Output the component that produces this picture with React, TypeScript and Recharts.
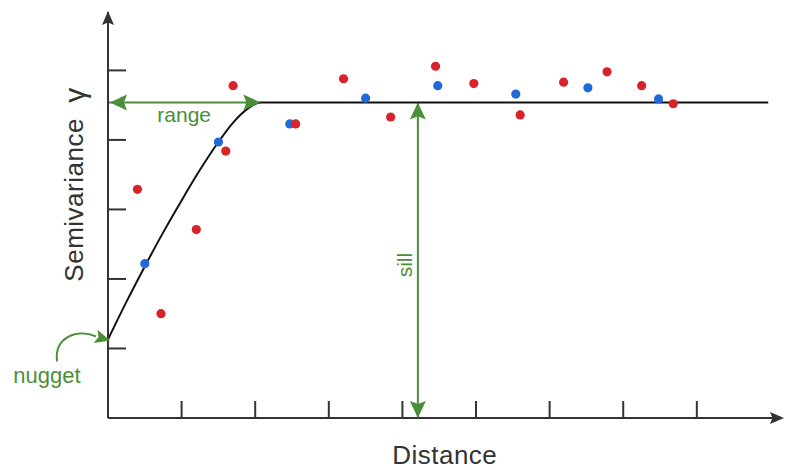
import React from 'react';
import {
  ComposedChart,
  XAxis,
  YAxis,
  Line,
  Scatter,
  ReferenceLine,
  ReferenceDot,
} from 'recharts';

// ---- data ----
const X_TICKS = [1, 2, 3, 4, 5, 6, 7, 8];
const Y_TICKS = [1, 2, 3, 4, 5];
const X_MAX = 9.13;
const Y_MAX = 5.84;
const NUGGET = 1.13;
const SILL = 4.54;
const RANGE = 2.07;
const SILL_X = 4.21;

const modelCurve = [
  { x: 0, y: 1.13 },
  { x: 0.25, y: 1.67 },
  { x: 0.5, y: 2.18 },
  { x: 0.75, y: 2.67 },
  { x: 1.0, y: 3.13 },
  { x: 1.25, y: 3.57 },
  { x: 1.5, y: 3.97 },
  { x: 1.7, y: 4.25 },
  { x: 1.9, y: 4.45 },
  { x: 2.07, y: 4.54 },
  { x: 8.97, y: 4.54 },
];

const bluePoints = [
  { x: 0.5, y: 2.22 },
  { x: 1.5, y: 3.97 },
  { x: 2.47, y: 4.23 },
  { x: 3.5, y: 4.6 },
  { x: 4.48, y: 4.78 },
  { x: 5.54, y: 4.66 },
  { x: 6.52, y: 4.75 },
  { x: 7.48, y: 4.59 },
];

const redPoints = [
  { x: 0.4, y: 3.29 },
  { x: 0.72, y: 1.5 },
  { x: 1.2, y: 2.71 },
  { x: 1.6, y: 3.84 },
  { x: 1.7, y: 4.78 },
  { x: 2.55, y: 4.23 },
  { x: 3.2, y: 4.88 },
  { x: 3.84, y: 4.33 },
  { x: 4.45, y: 5.06 },
  { x: 4.97, y: 4.81 },
  { x: 5.6, y: 4.36 },
  { x: 6.19, y: 4.83 },
  { x: 6.78, y: 4.98 },
  { x: 7.25, y: 4.78 },
  { x: 7.68, y: 4.52 },
];

// ---- styles ----
const AXIS = '#333333';
const GREEN = '#4a8f38';
const RED = '#d8232a';
const BLUE = '#1f6ad6';
const FONT = '"Liberation Sans", Arial, Helvetica, sans-serif';

const arrow = (color: string, angle: number, len: number, half: number, dx = 0, dy = 0) =>
  (props: any) => (
    <polygon
      points={`0,0 ${-len},${-half} ${-len * 0.82},0 ${-len},${half}`}
      fill={color}
      transform={`translate(${props.cx + dx},${props.cy + dy}) rotate(${angle})`}
    />
  );

const tickMark = (ddx: number, ddy: number) => (props: any) => (
  <line
    x1={props.cx}
    y1={props.cy}
    x2={props.cx + ddx}
    y2={props.cy + ddy}
    stroke={AXIS}
    strokeWidth={2}
  />
);

const label = (
  text: any,
  color: string,
  size: number,
  dx: number,
  dy: number,
  rotate = 0,
  baseline: any = 'auto',
  spacing = 0
) => (props: any) => (
  <text
    x={0}
    y={0}
    transform={`translate(${props.cx + dx},${props.cy + dy}) rotate(${rotate})`}
    textAnchor="middle"
    dominantBaseline={baseline}
    fill={color}
    fontSize={size}
    fontFamily={FONT}
    letterSpacing={spacing}
  >
    {text}
  </text>
);

const nuggetArrow = (props: any) => (
  <g transform={`translate(${props.cx + 2},${props.cy + 1})`}>
    <path d="M -53 21 C -56 -4, -32 -12, -14 -4" fill="none" stroke={GREEN} strokeWidth={2} />
    <polygon points="0,0 -12.5,-10.8 -11.5,-3.5 -16.3,2.6" fill={GREEN} />
  </g>
);

export default function App() {
  return (
    <div style={{ position: 'absolute', left: 0, top: 0, background: '#fff' }}>
      <ComposedChart
        width={785}
        height={470}
        margin={{ top: 12, right: 5, bottom: 52, left: 108 }}
      >
        <XAxis
          type="number"
          dataKey="x"
          domain={[0, X_MAX]}
          ticks={X_TICKS}
          allowDataOverflow
          mirror
          tick={false}
          tickLine={false}
          axisLine={{ stroke: AXIS, strokeWidth: 2 }}
        />
        <YAxis
          type="number"
          dataKey="y"
          domain={[0, Y_MAX]}
          ticks={Y_TICKS}
          allowDataOverflow
          mirror
          tick={false}
          tickLine={false}
          axisLine={{ stroke: AXIS, strokeWidth: 2 }}
        />

        {/* tick marks (inside) */}
        {X_TICKS.map((t) => (
          <ReferenceDot key={`xt${t}`} x={t} y={0} r={0} ifOverflow="visible" shape={tickMark(0, -17)} />
        ))}
        {Y_TICKS.map((t) => (
          <ReferenceDot key={`yt${t}`} x={0} y={t} r={0} ifOverflow="visible" shape={tickMark(18, 0)} />
        ))}

        {/* axis arrowheads */}
        <ReferenceDot x={0} y={Y_MAX} r={0} ifOverflow="visible" shape={arrow(AXIS, -90, 14, 6, 0, -1)} />
        <ReferenceDot x={X_MAX} y={0} r={0} ifOverflow="visible" shape={arrow(AXIS, 0, 14, 6, 4, 0)} />

        {/* sill arrow */}
        <ReferenceLine
          segment={[{ x: SILL_X, y: 0 }, { x: SILL_X, y: SILL }]}
          stroke={GREEN}
          strokeWidth={2}
          ifOverflow="visible"
        />
        <ReferenceDot x={SILL_X} y={SILL} r={0} ifOverflow="visible" shape={arrow(GREEN, -90, 17, 8)} />
        <ReferenceDot x={SILL_X} y={0} r={0} ifOverflow="visible" shape={arrow(GREEN, 90, 17, 8)} />

        {/* range arrow */}
        <ReferenceLine
          segment={[{ x: 0, y: SILL }, { x: RANGE, y: SILL }]}
          stroke={GREEN}
          strokeWidth={2}
          ifOverflow="visible"
        />
        <ReferenceDot x={0} y={SILL} r={0} ifOverflow="visible" shape={arrow(GREEN, 180, 17, 8, 2, 0)} />
        <ReferenceDot x={RANGE} y={SILL} r={0} ifOverflow="visible" shape={arrow(GREEN, 0, 17, 8)} />

        {/* nugget */}
        <ReferenceDot x={0} y={NUGGET} r={0} ifOverflow="visible" shape={nuggetArrow} />

        <Line
          data={modelCurve}
          dataKey="y"
          type="monotone"
          stroke="#111"
          strokeWidth={2}
          dot={false}
          isAnimationActive={false}
        />
        <Scatter data={bluePoints} fill={BLUE} isAnimationActive={false} shape={(p: any) => <circle cx={p.cx} cy={p.cy} r={4.6} fill={BLUE} />} />
        <Scatter data={redPoints} fill={RED} isAnimationActive={false} shape={(p: any) => <circle cx={p.cx} cy={p.cy} r={4.6} fill={RED} />} />

        {/* text labels */}
        <ReferenceDot x={RANGE / 2} y={SILL} r={0} ifOverflow="visible" shape={label('range', GREEN, 21, 0, 20)} />
        <ReferenceDot x={SILL_X} y={2.2} r={0} ifOverflow="visible" shape={label('sill', GREEN, 21, -13, 0, -90, 'central')} />
        <ReferenceDot x={0} y={NUGGET} r={0} ifOverflow="visible" shape={label('nugget', GREEN, 22, -61, 44)} />
        <ReferenceDot x={4.575} y={0} r={0} ifOverflow="visible" shape={label('Distance', AXIS, 26, 0, 46, 0, 'auto', 0.5)} />
        <ReferenceDot
          x={0}
          y={3.36}
          r={0}
          ifOverflow="visible"
          shape={label(
            <>
              {'Semivariance\u00a0\u00a0'}
              <tspan fontSize={30}>{'\u03b3'}</tspan>
            </>,
            AXIS,
            26,
            -34,
            0,
            -90,
            'central',
            0.5
          )}
        />
      </ComposedChart>
    </div>
  );
}
